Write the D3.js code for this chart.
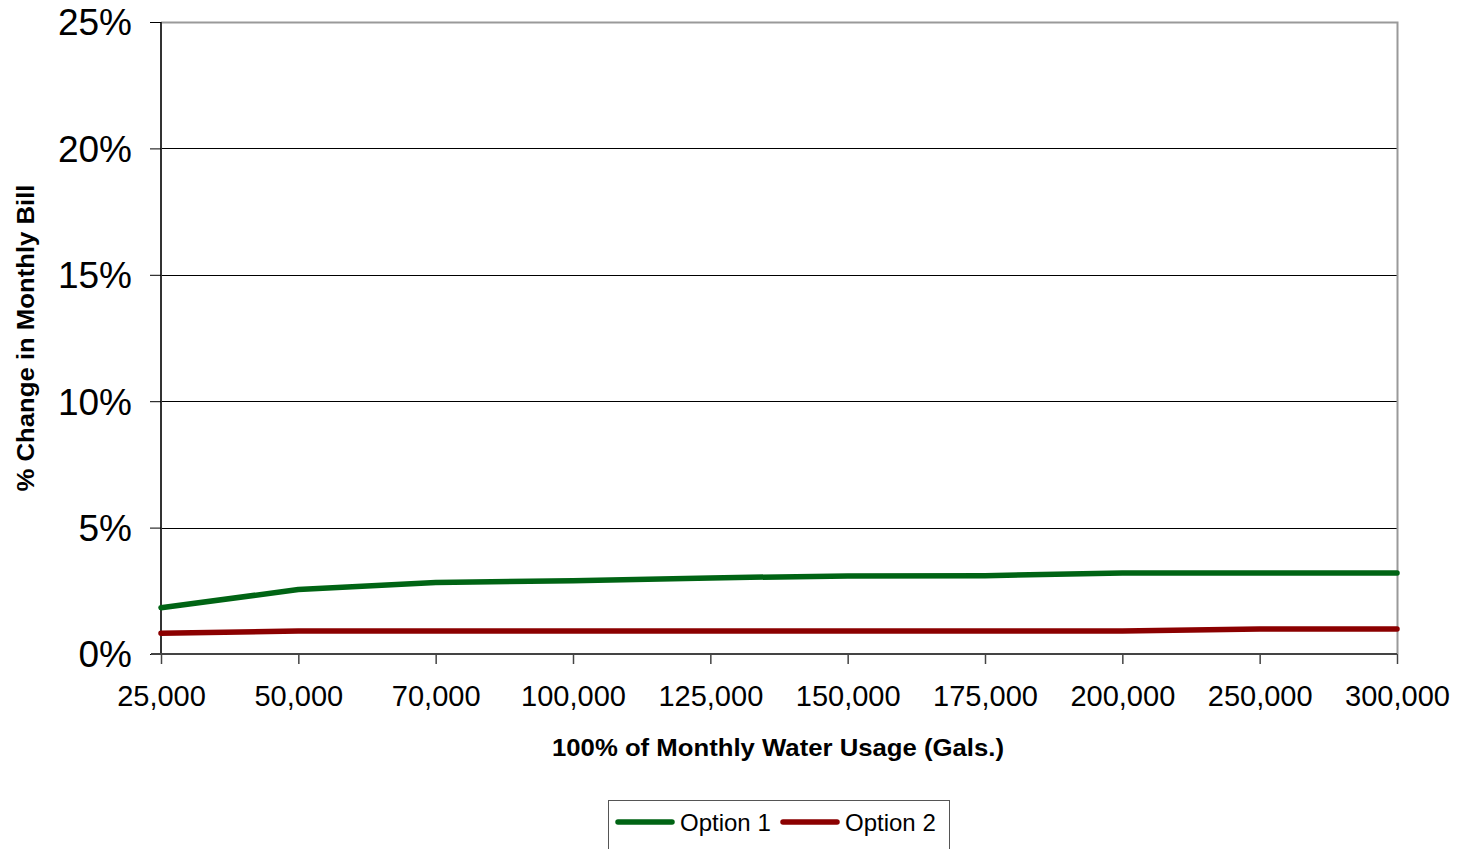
<!DOCTYPE html>
<html>
<head>
<meta charset="utf-8">
<script src="https://cdn.jsdelivr.net/npm/d3@7"></script>
<style>
  html, body { margin: 0; padding: 0; background: #fff; }
  svg { display: block; font-family: "Liberation Sans", Arial, sans-serif; }
</style>
</head>
<body>
<svg id="chart" width="1471" height="849"></svg>
<script>
const categories = ["25,000", "50,000", "70,000", "100,000", "125,000", "150,000", "175,000", "200,000", "250,000", "300,000"];
const option1 = [1.83, 2.55, 2.83, 2.90, 3.01, 3.09, 3.10, 3.20, 3.20, 3.20];
const option2 = [0.82, 0.91, 0.91, 0.91, 0.91, 0.91, 0.91, 0.91, 0.99, 0.99];
const yTicks = [0, 5, 10, 15, 20, 25];
const seriesNames = ["Option 1", "Option 2"];
const seriesColors = ["#006414", "#8b0000"];
const xTitle = "100% of Monthly Water Usage (Gals.)";
const yTitle = "% Change in Monthly Bill";

const svg = d3.select("#chart");
const L = 161, R = 1397, T = 22, B = 654;

const x = d3.scalePoint().domain(categories).range([L, R]).padding(0);
const y = d3.scaleLinear().domain([0, 25]).range([B, T]);

// gridlines
svg.append("g").selectAll("line").data(yTicks.filter(d => d > 0 && d < 25)).join("line")
  .attr("x1", L).attr("x2", R)
  .attr("y1", d => Math.round(y(d)) + 0.5).attr("y2", d => Math.round(y(d)) + 0.5)
  .attr("stroke", "#000").attr("stroke-width", 1);

// plot border (top & right, gray)
svg.append("path")
  .attr("d", `M${L},${T + 0.5}H${R + 0.5}V${B}`)
  .attr("fill", "none").attr("stroke", "#9a9a9a").attr("stroke-width", 2);

// y axis
const yAxis = d3.axisLeft(y).tickValues(yTicks).tickFormat(d => d + "%").tickSize(11).tickPadding(18);
const gy = svg.append("g").attr("transform", `translate(${L},0)`).call(yAxis);
gy.select(".domain").attr("stroke", "#333").attr("stroke-width", 2).attr("d", `M0,${T}V${B}`);
gy.selectAll(".tick line").attr("stroke", "#000");
gy.selectAll(".tick text").attr("font-size", 37).attr("fill", "#000")
  .attr("font-family", "Liberation Sans, Arial, sans-serif").attr("dy", "0.35em");

// x axis
const xAxis = d3.axisBottom(x).tickSize(10).tickPadding(27);
const gx = svg.append("g").attr("transform", `translate(0,${B})`).call(xAxis);
gx.select(".domain").attr("stroke", "#444").attr("stroke-width", 2).attr("d", `M${L - 10},0H${R}`);
gx.selectAll(".tick line").attr("stroke", "#444").attr("stroke-width", 1.5);
gx.selectAll(".tick text").attr("font-size", 29).attr("fill", "#000")
  .attr("font-family", "Liberation Sans, Arial, sans-serif").attr("dy", "0.5em");

// lines
const line = d3.line().x((d, i) => x(categories[i])).y(d => y(d));
[option1, option2].forEach((vals, k) => {
  svg.append("path").datum(vals)
    .attr("d", line)
    .attr("fill", "none")
    .attr("stroke", seriesColors[k])
    .attr("stroke-width", 5.5)
    .attr("stroke-linecap", "round")
    .attr("stroke-linejoin", "round");
});

// axis titles
svg.append("text")
  .attr("x", (552 + 1004) / 2).attr("y", 756)
  .attr("text-anchor", "middle")
  .attr("font-size", 24).attr("font-weight", "bold")
  .attr("textLength", 452).attr("lengthAdjust", "spacingAndGlyphs")
  .text(xTitle);

svg.append("text")
  .attr("transform", `translate(34,${(T + B) / 2}) rotate(-90)`)
  .attr("text-anchor", "middle")
  .attr("font-size", 24).attr("font-weight", "bold")
  .attr("textLength", 307).attr("lengthAdjust", "spacingAndGlyphs")
  .text(yTitle);

// legend
const lg = svg.append("g");
lg.append("rect").attr("x", 608.5).attr("y", 800.5).attr("width", 341).attr("height", 60)
  .attr("fill", "#fff").attr("stroke", "#555").attr("stroke-width", 1);
const legendX = [[618, 672, 680], [783, 837, 845]];
seriesNames.forEach((name, k) => {
  const [x1, x2, tx] = legendX[k];
  lg.append("line").attr("x1", x1).attr("x2", x2).attr("y1", 822).attr("y2", 822)
    .attr("stroke", seriesColors[k]).attr("stroke-width", 5.5).attr("stroke-linecap", "round");
  lg.append("text").attr("x", tx).attr("y", 831).attr("font-size", 24).attr("fill", "#000").text(name);
});
</script>
</body>
</html>
